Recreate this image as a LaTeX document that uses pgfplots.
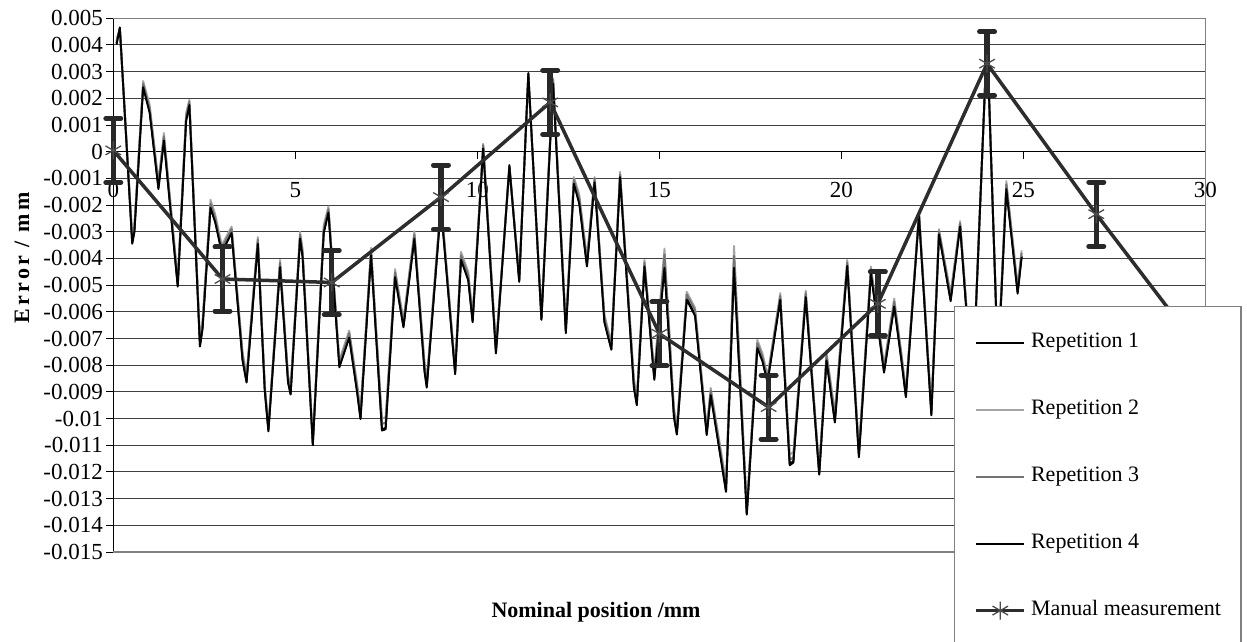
\documentclass[border=0pt]{standalone}
\usepackage{fontspec}
\setmainfont{Liberation Serif}
\usepackage{pgfplots}
\pgfplotsset{compat=1.18}
\usepackage{pgfplotstable}

\definecolor{manualc}{RGB}{45,45,45}
\definecolor{bargrey}{RGB}{40,40,40}
\definecolor{reptwo}{RGB}{165,165,165}
\definecolor{repthree}{RGB}{115,115,115}

% Error of the four automatic repetitions (mm) against nominal position (mm)
\pgfplotstableread{
x      r1        r2        r3        r4
0.09   4.07e-3   4.25e-3   4.15e-3   4.02e-3
0.18   4.63e-3   4.55e-3   4.60e-3   4.66e-3
0.52  -3.40e-3  -3.15e-3  -3.28e-3  -3.45e-3
0.58  -2.95e-3  -2.70e-3  -2.82e-3  -3.00e-3
0.82   2.47e-3   2.65e-3   2.55e-3   2.42e-3
1.00   1.50e-3   1.75e-3   1.62e-3   1.45e-3
1.24  -1.34e-3  -1.10e-3  -1.22e-3  -1.40e-3
1.39   0.48e-3   0.70e-3   0.58e-3   0.42e-3
1.77  -5.01e-3  -4.75e-3  -4.88e-3  -5.06e-3
2.00   1.20e-3   1.45e-3   1.30e-3   1.15e-3
2.09   1.80e-3   1.95e-3   1.88e-3   1.75e-3
2.38  -7.25e-3  -7.00e-3  -7.12e-3  -7.30e-3
2.45  -6.60e-3  -6.35e-3  -6.48e-3  -6.65e-3
2.67  -2.06e-3  -1.80e-3  -1.95e-3  -2.10e-3
2.80  -2.60e-3  -2.35e-3  -2.48e-3  -2.65e-3
2.98  -3.73e-3  -3.50e-3  -3.62e-3  -3.78e-3
3.25  -3.01e-3  -2.80e-3  -2.90e-3  -3.05e-3
3.55  -7.77e-3  -7.50e-3  -7.62e-3  -7.82e-3
3.66  -8.60e-3  -8.35e-3  -8.48e-3  -8.65e-3
3.97  -3.40e-3  -3.20e-3  -3.30e-3  -3.45e-3
4.16  -8.90e-3  -8.70e-3  -8.80e-3  -8.95e-3
4.26 -10.44e-3 -10.30e-3 -10.38e-3 -10.48e-3
4.58  -4.28e-3  -4.05e-3  -4.15e-3  -4.32e-3
4.80  -8.60e-3  -8.35e-3  -8.45e-3  -8.65e-3
4.87  -9.07e-3  -8.85e-3  -8.95e-3  -9.10e-3
5.13  -3.21e-3  -3.00e-3  -3.10e-3  -3.25e-3
5.20  -3.90e-3  -3.65e-3  -3.78e-3  -3.95e-3
5.48 -10.96e-3 -10.80e-3 -10.90e-3 -11.00e-3
5.78  -3.00e-3  -2.75e-3  -2.88e-3  -3.05e-3
5.91  -2.23e-3  -2.05e-3  -2.15e-3  -2.28e-3
6.21  -8.03e-3  -7.80e-3  -7.92e-3  -8.08e-3
6.48  -6.92e-3  -6.70e-3  -6.80e-3  -6.97e-3
6.70  -9.00e-3  -8.70e-3  -8.85e-3  -9.05e-3
6.79  -9.98e-3  -9.70e-3  -9.85e-3 -10.02e-3
7.08  -3.83e-3  -3.60e-3  -3.72e-3  -3.88e-3
7.38 -10.40e-3 -10.00e-3 -10.20e-3 -10.45e-3
7.48 -10.35e-3  -9.95e-3 -10.15e-3 -10.40e-3
7.74  -4.64e-3  -4.40e-3  -4.52e-3  -4.70e-3
7.97  -6.53e-3  -6.30e-3  -6.42e-3  -6.58e-3
8.27  -3.21e-3  -2.98e-3  -3.10e-3  -3.26e-3
8.55  -8.20e-3  -7.90e-3  -8.05e-3  -8.25e-3
8.61  -8.79e-3  -8.55e-3  -8.68e-3  -8.84e-3
9.00  -2.00e-3  -1.80e-3  -1.90e-3  -2.05e-3
9.39  -8.29e-3  -8.10e-3  -8.20e-3  -8.34e-3
9.55  -4.00e-3  -3.75e-3  -3.88e-3  -4.05e-3
9.75  -4.77e-3  -4.50e-3  -4.62e-3  -4.82e-3
9.87  -6.34e-3  -6.10e-3  -6.22e-3  -6.39e-3
10.16  0.18e-3   0.30e-3   0.25e-3   0.12e-3
10.51 -7.51e-3  -7.25e-3  -7.38e-3  -7.56e-3
10.88 -0.50e-3  -0.70e-3  -0.60e-3  -0.55e-3
11.15 -4.84e-3  -4.60e-3  -4.72e-3  -4.88e-3
11.40  2.92e-3   2.75e-3   2.85e-3   2.95e-3
11.76 -6.27e-3  -6.10e-3  -6.20e-3  -6.30e-3
12.08  2.63e-3   2.75e-3   2.70e-3   2.55e-3
12.43 -6.73e-3  -6.50e-3  -6.60e-3  -6.80e-3
12.65 -1.12e-3  -0.95e-3  -1.05e-3  -1.20e-3
12.80 -1.90e-3  -1.60e-3  -1.75e-3  -1.95e-3
13.01 -4.25e-3  -3.95e-3  -4.10e-3  -4.30e-3
13.22 -1.10e-3  -0.95e-3  -1.00e-3  -1.15e-3
13.49 -6.34e-3  -6.10e-3  -6.22e-3  -6.40e-3
13.68 -7.38e-3  -7.15e-3  -7.25e-3  -7.42e-3
13.92 -0.89e-3  -0.75e-3  -0.85e-3  -0.95e-3
14.30 -8.80e-3  -8.50e-3  -8.65e-3  -8.85e-3
14.38 -9.46e-3  -9.20e-3  -9.35e-3  -9.50e-3
14.59 -4.25e-3  -4.05e-3  -4.15e-3  -4.30e-3
14.86 -8.49e-3  -8.25e-3  -8.38e-3  -8.55e-3
15.14 -4.20e-3  -3.63e-3  -3.85e-3  -4.35e-3
15.40 -9.90e-3  -9.60e-3  -9.75e-3  -9.95e-3
15.48 -10.57e-3 -10.30e-3 -10.45e-3 -10.60e-3
15.75 -5.49e-3  -5.25e-3  -5.35e-3  -5.55e-3
15.98 -6.10e-3  -5.85e-3  -5.95e-3  -6.15e-3
16.30 -10.57e-3 -10.35e-3 -10.45e-3 -10.62e-3
16.41 -9.07e-3  -8.85e-3  -8.95e-3  -9.12e-3
16.75 -12.00e-3 -11.70e-3 -11.85e-3 -12.05e-3
16.83 -12.72e-3 -12.45e-3 -12.60e-3 -12.75e-3
17.05 -4.25e-3  -3.53e-3  -3.90e-3  -4.35e-3
17.40 -13.57e-3 -13.30e-3 -13.45e-3 -13.60e-3
17.69 -7.31e-3  -7.05e-3  -7.18e-3  -7.36e-3
17.83 -7.80e-3  -7.55e-3  -7.68e-3  -7.85e-3
17.97 -8.60e-3  -8.40e-3  -8.50e-3  -8.65e-3
18.32 -5.49e-3  -5.30e-3  -5.40e-3  -5.55e-3
18.58 -11.70e-3 -11.35e-3 -11.55e-3 -11.75e-3
18.68 -11.60e-3 -11.25e-3 -11.45e-3 -11.65e-3
19.02 -5.40e-3  -5.20e-3  -5.30e-3  -5.45e-3
19.39 -12.07e-3 -11.85e-3 -11.95e-3 -12.10e-3
19.59 -7.77e-3  -7.50e-3  -7.65e-3  -7.82e-3
19.82 -10.10e-3  -9.75e-3  -9.90e-3 -10.15e-3
20.16 -4.22e-3  -4.05e-3  -4.15e-3  -4.28e-3
20.48 -11.40e-3 -11.10e-3 -11.25e-3 -11.45e-3
20.81 -4.50e-3  -4.30e-3  -4.40e-3  -4.55e-3
21.17 -8.22e-3  -8.00e-3  -8.10e-3  -8.28e-3
21.45 -5.75e-3  -5.50e-3  -5.62e-3  -5.80e-3
21.65 -7.80e-3  -7.55e-3  -7.68e-3  -7.85e-3
21.77 -9.14e-3  -8.95e-3  -9.05e-3  -9.20e-3
22.13 -2.36e-3  -2.25e-3  -2.30e-3  -2.40e-3
22.47 -9.83e-3  -9.55e-3  -9.70e-3  -9.88e-3
22.68 -3.05e-3  -2.90e-3  -2.98e-3  -3.10e-3
23.00 -5.55e-3  -5.30e-3  -5.42e-3  -5.60e-3
23.26 -2.75e-3  -2.60e-3  -2.68e-3  -2.80e-3
23.60 -9.00e-3  -8.75e-3  -8.88e-3  -9.05e-3
24.00  4.30e-3   4.15e-3   4.22e-3   4.35e-3
24.30 -8.00e-3  -7.75e-3  -7.88e-3  -8.05e-3
24.53 -1.34e-3  -1.10e-3  -1.22e-3  -1.40e-3
24.84 -5.26e-3  -5.00e-3  -5.12e-3  -5.32e-3
24.95 -3.90e-3  -3.70e-3  -3.80e-3  -3.95e-3
}\repdata

% Manual measurement with its uncertainty (mm)
\pgfplotstableread{
x   y          e
0    0.05e-3   1.2e-3
3   -4.77e-3   1.2e-3
6   -4.90e-3   1.2e-3
9   -1.70e-3   1.2e-3
12   1.85e-3   1.2e-3
15  -6.82e-3   1.2e-3
18  -9.57e-3   1.2e-3
21  -5.70e-3   1.2e-3
24   3.30e-3   1.2e-3
27  -2.34e-3   1.2e-3
30  -7.70e-3   1.2e-3
}\manual

\begin{document}
\begin{tikzpicture}
\useasboundingbox (0,0) rectangle (1247pt,641pt);
\begin{axis}[
  at={(113.3pt,89pt)}, anchor=south west,
  scale only axis, width=1092.2pt, height=533.7pt,
  xmin=0, xmax=30, ymin=-0.015, ymax=0.005,
  clip=false,
  scaled x ticks=false, scaled y ticks=false,
  axis x line=middle, axis y line=left,
  hide obscured x ticks=false, hide obscured y ticks=false,
  x axis line style={-, black, line width=1.2pt},
  y axis line style={-, black, line width=1.4pt},
  tick align=outside,
  major tick length=7pt,
  tick style={black, line width=1pt},
  xtick={0,5,10,15,20,25,30},
  xticklabels={0,5,10,15,20,25,30},
  ytick={-0.015,-0.014,-0.013,-0.012,-0.011,-0.010,-0.009,-0.008,-0.007,-0.006,-0.005,-0.004,-0.003,-0.002,-0.001,0,0.001,0.002,0.003,0.004,0.005},
  yticklabels={-0.015,-0.014,-0.013,-0.012,-0.011,-0.01,-0.009,-0.008,-0.007,-0.006,-0.005,-0.004,-0.003,-0.002,-0.001,0,0.001,0.002,0.003,0.004,0.005},
  tick label style={font=\fontsize{23}{27}\selectfont},
  xticklabel style={yshift=-20pt},
  ymajorgrids,
  grid style={black!75, line width=1pt},
  every axis x label/.style={at={(axis description cs:0.442,-0.112)}, anchor=center},
  every axis y label/.style={at={(axis description cs:-0.0836,0.551)}, rotate=90, anchor=center},
  label style={font=\fontsize{22}{26}\selectfont\bfseries},
  ylabel={\addfontfeatures{LetterSpace=15}Error / mm},
  xlabel={Nominal position /mm},
  legend cell align=left,
  legend image code/.code={\draw[mark repeat=2, mark phase=2, #1] plot coordinates {(0pt,0pt) (24pt,0pt) (48pt,0pt)};},
  legend style={
    at={(rel axis cs:0.7697,0.461)}, anchor=north west,
    draw=gray, line width=1.2pt, fill=white,
    font=\fontsize{22}{26}\selectfont,
    inner xsep=20pt, inner ysep=26pt, row sep=47pt,
    nodes={inner sep=0pt, text height=15pt, text depth=5pt},
    /tikz/every odd column/.append style={column sep=5pt},
  },
]
% plot-area frame
\draw[gray, line width=1.6pt] (rel axis cs:0,0) -- (rel axis cs:1,0) -- (rel axis cs:1,1) -- (rel axis cs:0,1);

\addplot[black, line width=1.9pt, line join=round] table[x=x, y=r1] {\repdata};
\addplot[reptwo, line width=1.9pt, line join=round] table[x=x, y=r2] {\repdata};
\addplot[repthree, line width=1.9pt, line join=round] table[x=x, y=r3] {\repdata};
\addplot[black, line width=1.9pt, line join=round] table[x=x, y=r4] {\repdata};

\addplot[manualc, line width=3.5pt, mark=asterisk, mark size=9pt,
  mark options={line width=1.3pt, black!70, solid},
  error bars/.cd, y dir=both, y explicit,
  error bar style={line width=5.5pt, bargrey},
  error mark options={rotate=90, mark size=7.5pt, line width=5pt, line cap=round, bargrey}]
  table[x=x, y=y, y error=e] {\manual};

\legend{Repetition 1, Repetition 2, Repetition 3, Repetition 4, Manual measurement}
\end{axis}
\end{tikzpicture}
\end{document}
